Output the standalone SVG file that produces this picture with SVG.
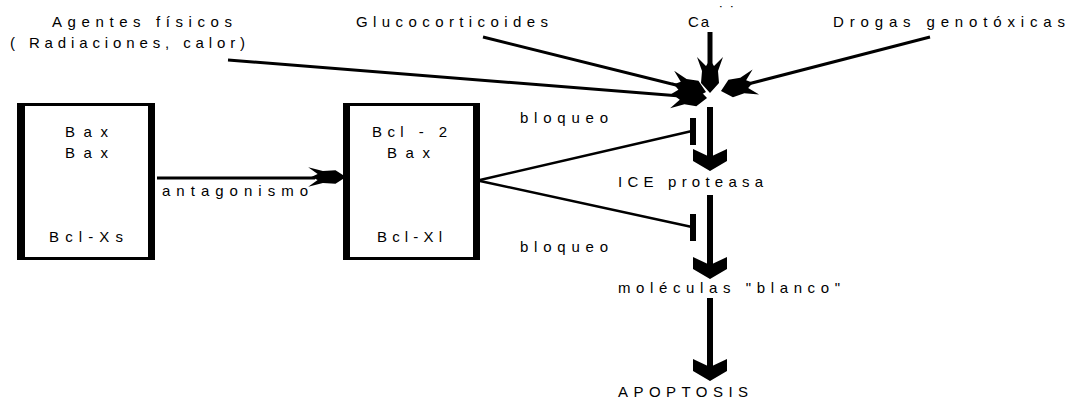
<svg xmlns="http://www.w3.org/2000/svg" width="1068" height="400" viewBox="0 0 1068 400">
<style>
text{font-family:"Liberation Sans",Arial,sans-serif;font-size:15px;fill:#000}
.ln{stroke:#000;fill:none;stroke-linecap:butt}
.box{fill:#fff;stroke:#000;stroke-width:3}
.bar{fill:#000}
.hd{fill:#000}
</style>
<defs>
<path id="barb" d="M0,0 L-10,-9 L-22,-8 L-36,-13 L-27,-4 L-33,0 L-27,4 L-36,13 L-22,8 L-10,9 Z"/>
<path id="chev" d="M0,0 L-17,-10 L-17,-22 L0,-14 L17,-22 L17,-10 Z"/>
</defs>
<rect width="1068" height="400" fill="#fff"/>

<g id="connectors">
<line class="ln" x1="228" y1="60" x2="680" y2="96" stroke-width="3"/>
<use href="#barb" class="hd" transform="translate(707,98) rotate(4.5)"/>
<line class="ln" x1="483" y1="37" x2="680" y2="86" stroke-width="3"/>
<use href="#barb" class="hd" transform="translate(706,92) rotate(13.8)"/>
<line class="ln" x1="710" y1="32" x2="710" y2="70" stroke-width="5"/>
<use href="#barb" class="hd" transform="translate(710,93) rotate(90)"/>
<line class="ln" x1="930" y1="37" x2="748" y2="84" stroke-width="3"/>
<use href="#barb" class="hd" transform="translate(721,91) rotate(165.5)"/>
<line class="ln" x1="157" y1="178" x2="315" y2="178" stroke-width="3"/>
<use href="#barb" class="hd" transform="translate(346,177) scale(1.05,0.75)"/>
<line class="ln" x1="710" y1="107" x2="710" y2="160" stroke-width="6"/>
<use href="#chev" class="hd" transform="translate(710,171)"/>
<line class="ln" x1="710" y1="195" x2="710" y2="268" stroke-width="6"/>
<use href="#chev" class="hd" transform="translate(710,279)"/>
<line class="ln" x1="710" y1="298" x2="710" y2="370" stroke-width="6"/>
<use href="#chev" class="hd" transform="translate(710,381)"/>
<line class="ln" x1="480" y1="180" x2="692" y2="131" stroke-width="2.5"/>
<rect class="bar" x="690" y="118" width="6" height="27"/>
<line class="ln" x1="480" y1="181" x2="692" y2="227" stroke-width="2.5"/>
<rect class="bar" x="690" y="214" width="6" height="27"/>
</g>

<g id="box1">
<rect class="box" x="19" y="104.5" width="133" height="154"/>
<rect class="bar" x="17" y="103" width="8" height="157"/>
<rect class="bar" x="148" y="103" width="7" height="157"/>
<text x="65" y="137" textLength="43" lengthAdjust="spacing">Bax</text>
<text x="65" y="158" textLength="43" lengthAdjust="spacing">Bax</text>
<text x="49" y="242" textLength="74" lengthAdjust="spacing">Bcl-Xs</text>
</g>

<g id="box2">
<rect class="box" x="345" y="104.5" width="132" height="154"/>
<rect class="bar" x="343" y="103" width="7" height="157"/>
<rect class="bar" x="473" y="103" width="7" height="157"/>
<text x="372" y="137" textLength="75" lengthAdjust="spacing">Bcl - 2</text>
<text x="387" y="158" textLength="43" lengthAdjust="spacing">Bax</text>
<text x="377" y="242" textLength="65" lengthAdjust="spacing">Bcl-Xl</text>
</g>

<g id="agentes">
<text x="52" y="27" textLength="180" lengthAdjust="spacing">Agentes físicos</text>
<text x="10" y="48" textLength="235" lengthAdjust="spacing">( Radiaciones, calor)</text>
</g>
<g id="gluco"><text x="356" y="27" textLength="192" lengthAdjust="spacing">Glucocorticoides</text></g>
<g id="calcio"><text x="688" y="27" textLength="21" lengthAdjust="spacing">Ca</text><text x="719" y="17" font-size="13" textLength="16" lengthAdjust="spacing">˙˙</text></g>
<g id="drogas"><text x="833" y="27" textLength="232" lengthAdjust="spacing">Drogas genotóxicas</text></g>
<g id="antag-label"><text x="162" y="196" textLength="146" lengthAdjust="spacing">antagonismo</text></g>
<g id="bloqueo1"><text x="520" y="123" textLength="88" lengthAdjust="spacing">bloqueo</text></g>
<g id="bloqueo2"><text x="520" y="252" textLength="88" lengthAdjust="spacing">bloqueo</text></g>
<g id="ice"><text x="618" y="187" textLength="145" lengthAdjust="spacing">ICE proteasa</text></g>
<g id="moleculas"><text x="618" y="293" textLength="222" lengthAdjust="spacing">moléculas "blanco"</text></g>
<g id="apoptosis"><text x="618" y="397" textLength="130" lengthAdjust="spacing">APOPTOSIS</text></g>
</svg>
